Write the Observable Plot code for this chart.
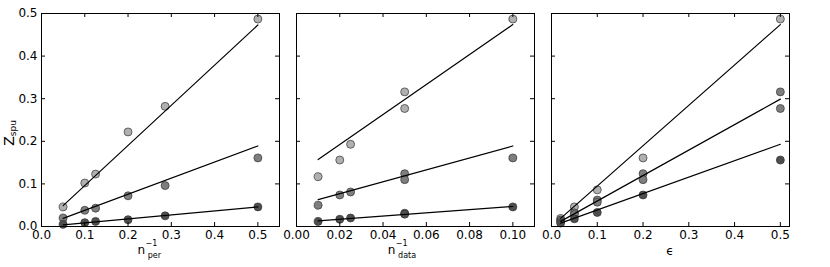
<!DOCTYPE html>
<html><head><meta charset="utf-8">
<script src="https://cdn.jsdelivr.net/npm/d3@7"></script>
<script src="https://cdn.jsdelivr.net/npm/@observablehq/plot@0.6"></script>
<style>
body{margin:0;background:#fff}
#chart{position:relative;width:830px;height:267px;overflow:hidden}
#chart svg{position:absolute;top:0}
</style>
</head><body><div id="chart"></div>
<script>
// ---- data ----
const yTicks = [0, 0.1, 0.2, 0.3, 0.4, 0.5];

// panel 1: Z_spu vs 1/n_per
const p1X = [0.05, 0.1, 0.125, 0.2, 0.2857, 0.5];
const p1Light = [0.046, 0.102, 0.123, 0.222, 0.282, 0.487];
const p1Mid = [0.020, 0.038, 0.043, 0.072, 0.096, 0.161];
const p1Dark = [0.005, 0.009, 0.012, 0.016, 0.025, 0.046];
const p1FitX = [0.05, 0.5];
const p1FitLight = [0.049, 0.473];
const p1FitMid = [0.019, 0.189];
const p1FitDark = [0.004, 0.046];
const p1Ticks = [0, 0.1, 0.2, 0.3, 0.4, 0.5];

// panel 2: Z_spu vs 1/n_data
const p2X = [0.01, 0.02, 0.025, 0.05, 0.05, 0.1];
const p2Light = [0.117, 0.156, 0.193, 0.316, 0.277, 0.487];
const p2Mid = [0.050, 0.074, 0.081, 0.124, 0.110, 0.161];
const p2Dark = [0.012, 0.017, 0.020, 0.031, 0.029, 0.046];
const p2FitX = [0.01, 0.1];
const p2FitLight = [0.157, 0.474];
const p2FitMid = [0.063, 0.189];
const p2FitDark = [0.013, 0.047];
const p2Ticks = [0, 0.02, 0.04, 0.06, 0.08, 0.1];

// panel 3: Z_spu vs epsilon
const p3LightX = [0.02, 0.05, 0.1, 0.2, 0.5];
const p3Light = [0.019, 0.046, 0.086, 0.161, 0.487];
const p3MidX = [0.02, 0.02, 0.05, 0.05, 0.1, 0.1, 0.2, 0.2, 0.5, 0.5];
const p3Mid = [0.015, 0.012, 0.032, 0.028, 0.062, 0.057, 0.124, 0.110, 0.316, 0.277];
const p3DarkX = [0.02, 0.05, 0.1, 0.2, 0.5];
const p3Dark = [0.008, 0.018, 0.033, 0.074, 0.156];
const p3FitX = [0.02, 0.5];
const p3FitLight = [0.019, 0.474];
const p3FitMid = [0.012, 0.299];
const p3FitDark = [0.008, 0.193];
const p3Ticks = [0, 0.1, 0.2, 0.3, 0.4, 0.5];

const fills = {light: "#b0b0b0", mid: "#7e7e7e", dark: "#4e4e4e"};

// ---- drawing ----
const H = 267, MT = 13, MB = 41, PW = 238, PH = H - MT - MB;
const chart = document.getElementById("chart");

function toRows(xs, ys) { return xs.map((x, i) => ({x, y: ys[i]})); }

function panel({left, width, ml, xDomain, xTicks, xFmt, showY, series, fits}) {
  const marks = [];
  for (const s of series) {
    marks.push(Plot.dot(toRows(s.x, s.y), {x: "x", y: "y", r: 4, fill: s.fill, stroke: "#333", strokeWidth: 0.7}));
  }
  for (const f of fits) {
    marks.push(Plot.line(toRows(f.x, f.y), {x: "x", y: "y", stroke: "black", strokeWidth: 1.2}));
  }
  marks.push(
    Plot.frame({stroke: "black", strokeWidth: 1}),
    Plot.tickX(xTicks, {x: d => d, insetTop: PH - 4, stroke: "black"}),
    Plot.tickX(xTicks, {x: d => d, insetBottom: PH - 4, stroke: "black"}),
    Plot.tickY(yTicks, {y: d => d, insetRight: PW - 4, stroke: "black"}),
    Plot.tickY(yTicks, {y: d => d, insetLeft: PW - 4, stroke: "black"}),
    Plot.axisX({ticks: xTicks, tickSize: 0, tickPadding: 4, tickFormat: xFmt, fontSize: 12, label: null, fill: "black"})
  );
  if (showY) marks.push(Plot.axisY({ticks: yTicks, tickSize: 0, tickPadding: 4, tickFormat: d3.format(".1f"), fontSize: 12, label: null, fill: "black"}));
  const svg = Plot.plot({
    width, height: H,
    marginLeft: ml, marginRight: width - ml - PW, marginTop: MT, marginBottom: MB,
    x: {domain: xDomain, axis: null},
    y: {domain: [0, 0.5], axis: null},
    style: {fontFamily: "DejaVu Sans", fontSize: "12px", background: "transparent", overflow: "visible", color: "black"},
    marks
  });
  svg.style.left = left + "px";
  chart.appendChild(svg);
  return svg;
}

const s1 = panel({left: 0, width: 290, ml: 41, xDomain: [0, 0.55], xTicks: p1Ticks, xFmt: d3.format(".1f"), showY: true,
  series: [{x: p1X, y: p1Light, fill: fills.light}, {x: p1X, y: p1Mid, fill: fills.mid}, {x: p1X, y: p1Dark, fill: fills.dark}],
  fits: [{x: p1FitX, y: p1FitLight}, {x: p1FitX, y: p1FitMid}, {x: p1FitX, y: p1FitDark}]});
const s2 = panel({left: 280, width: 270, ml: 16, xDomain: [0, 0.11], xTicks: p2Ticks, xFmt: d3.format(".2f"), showY: false,
  series: [{x: p2X, y: p2Light, fill: fills.light}, {x: p2X, y: p2Mid, fill: fills.mid}, {x: p2X, y: p2Dark, fill: fills.dark}],
  fits: [{x: p2FitX, y: p2FitLight}, {x: p2FitX, y: p2FitMid}, {x: p2FitX, y: p2FitDark}]});
const s3 = panel({left: 540, width: 290, ml: 11, xDomain: [0, 0.52], xTicks: p3Ticks, xFmt: d3.format(".1f"), showY: false,
  series: [{x: p3LightX, y: p3Light, fill: fills.light}, {x: p3MidX, y: p3Mid, fill: fills.mid}, {x: p3DarkX, y: p3Dark, fill: fills.dark}],
  fits: [{x: p3FitX, y: p3FitLight}, {x: p3FitX, y: p3FitMid}, {x: p3FitX, y: p3FitDark}]});

// axis labels with stacked sub/superscripts, as one text element each
function nLabel(svg, cx, sub) {
  const nW = 12 * 0.634;
  const supW = 8 * 1.2;
  const subW = sub.length * 8 * 0.58;
  const x0 = cx - (nW + subW) / 2;
  const t = d3.select(svg).append("text").attr("x", x0).attr("y", 254)
    .attr("font-family", "DejaVu Sans").attr("fill", "black").attr("font-size", 12);
  t.append("tspan").text("n");
  t.append("tspan").attr("dx", 0.5).attr("dy", -8).attr("font-size", 8).text("\u22121");
  t.append("tspan").attr("dx", -supW).attr("dy", 12).attr("font-size", 8).text(sub);
}
nLabel(s1, 160, "per");
nLabel(s2, 135, "data");
d3.select(s3).append("text").attr("x", 130).attr("y", 255).attr("text-anchor", "middle")
  .attr("font-family", "DejaVu Sans").attr("font-size", 12).attr("fill", "black").text("\u03f5");

const yl = d3.select(s1).append("text").attr("transform", "translate(14,133) rotate(-90)")
  .attr("font-family", "DejaVu Sans").attr("fill", "black").attr("font-size", 14);
yl.append("tspan").text("Z");
yl.append("tspan").attr("dy", 2).attr("font-size", 9).text("spu");
</script></body></html>
